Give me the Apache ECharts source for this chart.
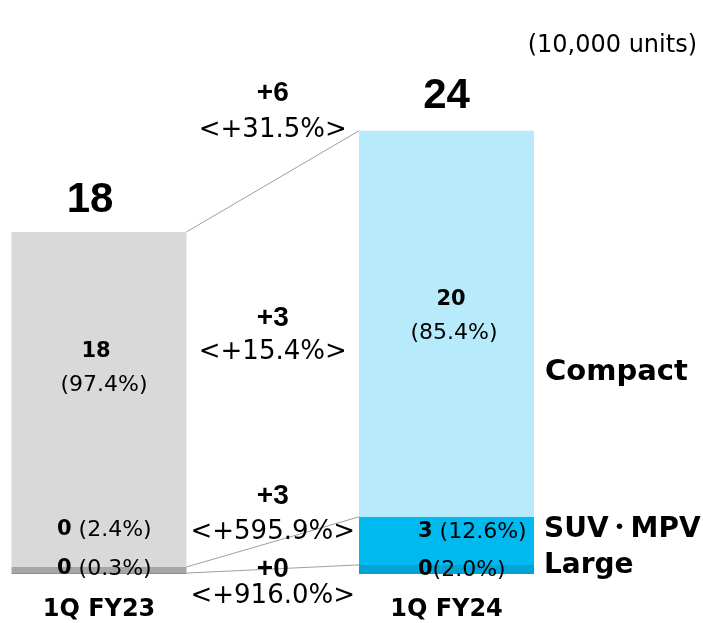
<!DOCTYPE html>
<html><head><meta charset="utf-8">
<script src="https://cdn.jsdelivr.net/npm/echarts@6/dist/echarts.min.js"></script>
<style>html,body{margin:0;padding:0;background:#fff}#c{width:703px;height:623px}</style>
</head><body><div id="c"></div><script>
// ---- data ----
const categories = ['1Q FY23', '1Q FY24'];
const segmentNames = ['Compact', 'SUV・MPV', 'Large'];
const compactValues = [18.06, 20.81];
const suvValues = [0.33, 2.59];
const largeValues = [0.05, 0.49];
const totalLabels = ['18', '24'];
const compactLabels = ['18', '20'];
const compactShares = ['(97.4%)', '(85.4%)'];
const suvLabels = ['0', '3'];
const suvShares = ['(2.4%)', '(12.6%)'];
const largeLabels = ['0', '0'];
const largeShares = ['(0.3%)', '(2.0%)'];
const diffValues = ['+6', '+3', '+3', '+0'];
const diffRates = ['<+31.5%>', '<+15.4%>', '<+595.9%>', '<+916.0%>'];
const unitLabel = '(10,000 units)';

// ---- styles ----
const compactColors = ['#D9D9D9', '#B7EBFB'];
const suvColors = ['#A6A6A6', '#00B9EF'];
const largeColors = ['#8C8C8C', '#00A3D6'];
const BAR_W = 175;
const HALF = BAR_W / 2;
const SANS = 'DejaVu Sans';
const ARIAL = 'Liberation Sans';

const totals = categories.map((_, i) => compactValues[i] + suvValues[i] + largeValues[i]);
const mids = categories.map((_, i) => suvValues[i] + largeValues[i]);

const chart = echarts.init(document.getElementById('c'), null, {renderer: 'canvas'});

function colored(vals, colors) {
  return vals.map((v, i) => ({value: v, itemStyle: {color: colors[i]}}));
}

chart.setOption({
  animation: false,
  grid: {left: 99, right: 256.5, top: 110.2, bottom: 49, containLabel: false},
  xAxis: {
    type: 'category', data: categories, boundaryGap: false,
    axisLine: {show: false}, axisTick: {show: false}, splitLine: {show: false},
    axisLabel: {interval: 0, margin: 24, color: '#000', fontFamily: SANS, fontWeight: 'bold', fontSize: 24}
  },
  yAxis: {type: 'value', min: 0, max: 25, show: false},
  series: [
    {type: 'bar', stack: 'a', barWidth: BAR_W, data: colored(largeValues, largeColors), silent: true},
    {type: 'bar', stack: 'a', barWidth: BAR_W, data: colored(suvValues, suvColors), silent: true},
    {type: 'bar', stack: 'a', barWidth: BAR_W, data: colored(compactValues, compactColors), silent: true},
    {
      type: 'custom', silent: true, z: 5,
      encode: {x: 0, y: [1, 2]},
      data: [[0, totals[0], totals[1]], [0, mids[0], mids[1]], [0, largeValues[0], largeValues[1]]],
      renderItem: function (params, api) {
        const p0 = api.coord([0, api.value(1)]);
        const p1 = api.coord([1, api.value(2)]);
        return {type: 'line', shape: {x1: p0[0] + HALF, y1: p0[1], x2: p1[0] - HALF, y2: p1[1]},
                style: {stroke: '#9E9E9E', lineWidth: 1}};
      }
    }
  ]
});

function px(i, v) { return chart.convertToPixel({xAxisIndex: 0, yAxisIndex: 0}, [i, v]); }

const g = [];
function txt(x, y, text, size, weight, family, align) {
  g.push({type: 'text', z: 10, silent: true, style: {
    x: x, y: y, text: text, fill: '#000', align: align || 'center', verticalAlign: 'middle',
    fontSize: size, fontWeight: weight || 'normal', fontFamily: family || SANS
  }});
}

// unit
txt(697, 46, unitLabel, 24, 'normal', SANS, 'right');

// totals above bars
const t0 = px(0, totals[0]), t1 = px(1, totals[1]);
txt(t0[0] - 9, t0[1] - 31, totalLabels[0], 42, 'bold', ARIAL);
txt(t1[0], t1[1] - 34, totalLabels[1], 42, 'bold', ARIAL);

// compact labels in bars
txt(t0[0] - 3, 352, compactLabels[0], 21, 'bold');
txt(t0[0] + 5, 385, compactShares[0], 22);
txt(t1[0] + 4.5, 300, compactLabels[1], 21, 'bold');
txt(t1[0] + 7.5, 333, compactShares[1], 22);

// small segment labels
const c0 = px(0, 0), c1 = px(1, 0);
function pair(x, y, a, b, gap) {
  g.push({type: 'text', z: 10, silent: true, style: {
    x: x, y: y, text: '{b|' + a + '}' + gap + '{n|' + b + '}', align: 'left', verticalAlign: 'middle',
    rich: {
      b: {fontSize: 21, fontWeight: 'bold', fontFamily: SANS, fill: '#000'},
      n: {fontSize: 22, fontFamily: SANS, fill: '#000'}
    }, fontSize: 22, fontFamily: SANS, fill: '#000'
  }});
}
pair(c0[0] - 42, 530, suvLabels[0], suvShares[0], ' ');
pair(c0[0] - 42, 569, largeLabels[0], largeShares[0], ' ');
pair(c1[0] - 28.5, 532, suvLabels[1], suvShares[1], ' ');
pair(c1[0] - 28.5, 570, largeLabels[1], largeShares[1], '');

// difference labels between bars
const mx = (c0[0] + c1[0]) / 2;
const diffY = [[93, 130], [318, 352], [496, 532], [569, 596]];
diffValues.forEach((d, i) => {
  txt(mx, diffY[i][0], d, 28, 'bold', ARIAL);
  txt(mx, diffY[i][1], diffRates[i], 26);
});

// segment names on right
const nameX = c1[0] + HALF + 10;
txt(nameX + 1, 372, segmentNames[0], 29, 'bold', SANS, 'left');
// SUV・MPV: render the middle dot a bit smaller so the label fits like the reference
const parts = segmentNames[1].split('・');
g.push({type: 'text', z: 10, silent: true, style: {
  x: nameX, y: 530, align: 'left', verticalAlign: 'middle',
  text: '{a|' + parts[0] + '}{d|・}{a|' + parts[1] + '}',
  rich: {
    a: {fontSize: 28, fontWeight: 'bold', fontFamily: SANS, fill: '#000'},
    d: {fontSize: 22, fontWeight: 'bold', fontFamily: 'Noto Sans CJK JP', fill: '#000', padding: [0, 0, 8, 0]}
  }
}});
txt(nameX, 566, segmentNames[2], 28, 'bold', SANS, 'left');

chart.setOption({graphic: g});
</script></body></html>
